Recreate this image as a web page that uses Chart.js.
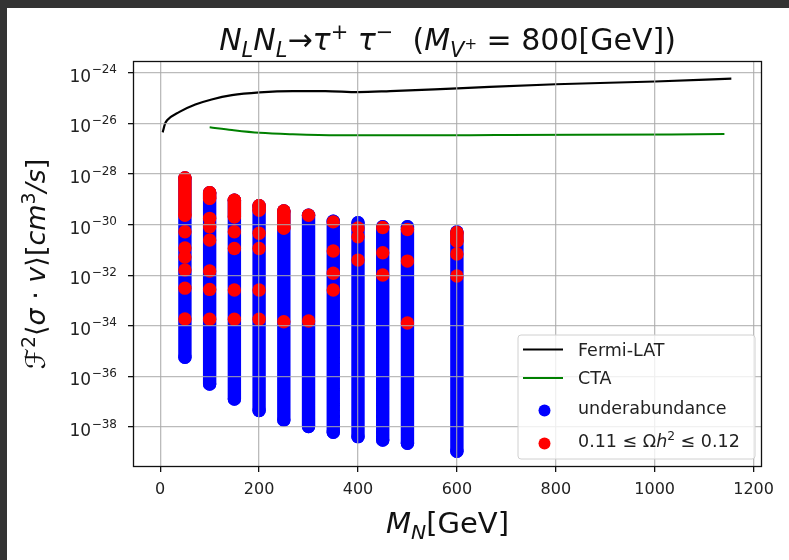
<!DOCTYPE html>
<html>
<head>
<meta charset="utf-8">
<script src="https://cdn.jsdelivr.net/npm/chart.js@4.4.0/dist/chart.umd.min.js"></script>
<style>
  html, body { margin: 0; padding: 0; }
  body { width: 789px; height: 560px; background: #333; overflow: hidden; position: relative; }
  #frame { position: absolute; left: 7px; top: 8px; width: 782px; height: 552px; background: #fff; }
</style>
</head>
<body>
<div id="frame"><canvas id="chart"></canvas></div>
<script>
// Fermi-LAT and CTA limits: mass [GeV], log10 of cross section
const fermiMass = [5, 10, 14, 39, 71, 104, 145, 201, 268, 334, 400, 465, 601, 800, 1001, 1155];
const fermiLog = [-26.35, -26.0, -25.87, -25.54, -25.25, -25.05, -24.88, -24.77, -24.72, -24.72, -24.76, -24.72, -24.61, -24.45, -24.34, -24.23];
const ctaMass = [100, 145, 201, 268, 359, 515, 679, 843, 1141];
const ctaLog = [-26.15, -26.26, -26.37, -26.43, -26.47, -26.47, -26.46, -26.45, -26.42];

// scan columns (log10 of cross section), blue points fill each column from top to bottom
const scanMass = [50, 100, 150, 200, 250, 300, 350, 400, 450, 500, 600];
const blueTop = [-28.15, -28.74, -29.03, -29.25, -29.46, -29.63, -29.86, -29.92, -30.08, -30.08, -30.29];
const blueBottom = [-35.24, -36.30, -36.89, -37.35, -37.72, -37.98, -38.21, -38.38, -38.51, -38.64, -38.96];
// red points for each column; a pair is a run of overlapping points
const redPoints = [
  [[-28.15, -29.62], -30.28, -30.92, -31.28, -31.79, -32.51, -33.73],
  [[-28.74, -28.96], -29.75, -30.08, -30.61, -31.83, -32.56, -33.74],
  [[-29.03, -29.69], -30.28, -30.94, -32.58, -33.74],
  [[-29.25, -29.42], -30.34, -30.94, -32.58, -33.74],
  [[-29.46, -30.13], -33.84],
  [-29.63, -33.81],
  [-29.89, -31.04, -31.92, -32.58],
  [-30.13, -30.48, -31.40],
  [-30.11, -31.11, -31.99],
  [-30.19, -31.44, -33.89],
  [[-30.32, -30.65], -31.16, -32.03]
];

const xTicks = [0, 200, 400, 600, 800, 1000, 1200];
const yTicks = [-24, -26, -28, -30, -32, -34, -36, -38];

const FONT = '"DejaVu Sans"';
const DOT = 6.7;

function curve(mass, logs) {
  return mass.map((m, i) => ({ x: m, y: Math.pow(10, logs[i]) }));
}

// each run becomes a short vertical stroke, split from the next by a null point
function columns(runsPerColumn) {
  const pts = [];
  scanMass.forEach((m, i) => {
    runsPerColumn[i].forEach((r) => {
      const run = Array.isArray(r) ? r : [r];
      run.forEach((v) => pts.push({ x: m, y: Math.pow(10, v) }));
      pts.push({ x: m, y: null });
    });
  });
  return pts;
}

const blueRuns = scanMass.map((m, i) => [[blueTop[i], blueBottom[i]]]);

// text with italics, subscripts and superscripts
function partFont(style, size) {
  let sz = size;
  if (style.includes("sub") || style.includes("sup")) sz = size * 0.7;
  if (style.includes("ss")) sz = size * 0.5;
  return (style.includes("i") ? "italic " : "") + sz.toFixed(1) + "px " + FONT;
}
function partShift(style, size) {
  if (style.includes("ss")) return -size * 0.02;
  if (style.includes("sub")) return size * 0.22;
  if (style.includes("sup")) return -size * 0.38;
  return 0;
}
function richWidth(ctx, parts, size) {
  let w = 0;
  parts.forEach(([t, s]) => { ctx.font = partFont(s, size); w += ctx.measureText(t).width; });
  return w;
}
function drawRich(ctx, parts, x, y, size, align) {
  let cx = x;
  if (align === "center") cx = x - richWidth(ctx, parts, size) / 2;
  if (align === "right") cx = x - richWidth(ctx, parts, size);
  ctx.textBaseline = "alphabetic";
  ctx.textAlign = "left";
  parts.forEach(([t, s]) => {
    ctx.font = partFont(s, size);
    ctx.fillText(t, cx, y + partShift(s, size));
    cx += ctx.measureText(t).width;
  });
}

const titleParts = [["N", "i"], ["L", "i sub"], ["N", "i"], ["L", "i sub"], ["→", ""], ["τ", "i"], ["+", "sup"], [" ", ""], ["τ", "i"], ["−", "sup"],
  ["  (", ""], ["M", "i"], ["V", "i sub"], ["+", "ss"], [" = 800[GeV])", ""]];
const xLabelParts = [["M", "i"], ["N", "i sub"], ["[GeV]", ""]];
const yLabelParts = [["ℱ", "i"], ["2", "sup"], ["⟨", ""], ["σ", "i"], [" · ", ""], ["v", "i"], ["⟩[", ""], ["cm", "i"], ["3", "sup"], ["/", "i"], ["s", "i"], ["]", ""]];

const legendEntries = [
  { kind: "line", color: "#000000", parts: [["Fermi-LAT", ""]] },
  { kind: "line", color: "#008000", parts: [["CTA", ""]] },
  { kind: "dot", color: "#0000ff", parts: [["underabundance", ""]] },
  { kind: "dot", color: "#ff0000", parts: [["0.11 ≤ Ω", ""], ["h", "i"], ["2", "sup"], [" ≤ 0.12", ""]] }
];

const decorations = {
  id: "decorations",
  afterDraw(chart) {
    const ctx = chart.ctx;
    const a = chart.chartArea;
    const yScale = chart.scales.y;
    ctx.save();
    // axes frame
    ctx.strokeStyle = "#111";
    ctx.lineWidth = 1.3;
    ctx.strokeRect(a.left + 0.5, a.top + 0.5, a.right - a.left - 1, a.bottom - a.top - 1);

    // y tick labels: 10 with a raised exponent
    ctx.fillStyle = "#222";
    yTicks.forEach((e) => {
      const py = yScale.getPixelForValue(Math.pow(10, e));
      ctx.font = "12px " + FONT;
      const ew = ctx.measureText("−" + Math.abs(e)).width;
      ctx.textAlign = "right";
      ctx.textBaseline = "alphabetic";
      ctx.fillText("−" + Math.abs(e), a.left - 16, py + 0.5);
      ctx.font = "17px " + FONT;
      ctx.fillText("10", a.left - 16 - ew - 0.5, py + 9);
    });

    ctx.fillStyle = "#111";
    drawRich(ctx, titleParts, (a.left + a.right) / 2, 42, 30, "center");
    drawRich(ctx, xLabelParts, (a.left + a.right) / 2, 525, 29, "center");
    ctx.save();
    ctx.translate(38, (a.top + a.bottom) / 2);
    ctx.rotate(-Math.PI / 2);
    drawRich(ctx, yLabelParts, 0, 0, 27, "center");
    ctx.restore();

    // legend box
    const bx = a.right - 244, by = a.bottom - 132, bw = 237, bh = 124;
    ctx.beginPath();
    ctx.roundRect(bx, by, bw, bh, 3);
    ctx.fillStyle = "rgba(255,255,255,0.8)";
    ctx.fill();
    ctx.lineWidth = 1;
    ctx.strokeStyle = "#d0d0d0";
    ctx.stroke();
    const rows = [by + 14.5, by + 43, by + 73, by + 106];
    legendEntries.forEach((e, i) => {
      const y = rows[i];
      if (e.kind === "line") {
        ctx.strokeStyle = e.color;
        ctx.lineWidth = 2.2;
        ctx.beginPath();
        ctx.moveTo(bx + 5, y);
        ctx.lineTo(bx + 45, y);
        ctx.stroke();
      } else {
        ctx.fillStyle = e.color;
        ctx.beginPath();
        ctx.arc(bx + 26.5, y + 2.5, 6, 0, Math.PI * 2);
        ctx.fill();
      }
      ctx.fillStyle = "#222";
      drawRich(ctx, e.parts, bx + 60, y + 6, 17.5, "left");
    });
    ctx.restore();
  }
};

const gridStyle = { color: "rgba(170,170,170,0.8)", lineWidth: 1.3, tickLength: 5, tickColor: "#111", z: 1 };

new Chart(document.getElementById("chart").getContext("2d"), {
  type: "line",
  data: {
    datasets: [
      {
        label: "Fermi-LAT",
        data: curve(fermiMass, fermiLog),
        borderColor: "#000000",
        borderWidth: 2.2,
        pointRadius: 0,
        cubicInterpolationMode: "monotone",
        order: 0,
      },
      {
        label: "CTA",
        data: curve(ctaMass, ctaLog),
        borderColor: "#008000",
        borderWidth: 2,
        pointRadius: 0,
        cubicInterpolationMode: "monotone",
        order: 0,
      },
      {
        label: "0.11 ≤ Ωh² ≤ 0.12",
        data: columns(redPoints),
        borderColor: "#ff0000",
        backgroundColor: "#ff0000",
        borderWidth: DOT * 2,
        borderJoinStyle: "round",
        pointRadius: DOT,
        pointBorderWidth: 0,
        pointBackgroundColor: "#ff0000",
        spanGaps: false,
        order: 1,
      },
      {
        label: "underabundance",
        data: columns(blueRuns),
        borderColor: "#0000ff",
        backgroundColor: "#0000ff",
        borderWidth: DOT * 2,
        borderJoinStyle: "round",
        pointRadius: DOT,
        pointBorderWidth: 0,
        pointBackgroundColor: "#0000ff",
        spanGaps: false,
        order: 2,
      },
    ],
  },
  options: {
    responsive: true,
    maintainAspectRatio: false,
    animation: false,
    events: [],
    layout: { padding: { top: 53, right: 27, left: 0, bottom: 0 } },
    plugins: {
      legend: { display: false },
      tooltip: { enabled: false },
      title: { display: false },
    },
    scales: {
      x: {
        type: "linear",
        min: -55,
        max: 1217,
        afterBuildTicks: (axis) => { axis.ticks = xTicks.map((v) => ({ value: v })); },
        afterFit: (axis) => { axis.height = 93; },
        grid: gridStyle,
        border: { display: false },
        ticks: {
          font: { family: FONT, size: 16 },
          color: "#222",
          padding: 8,
          maxRotation: 0,
          callback: (v) => String(v),
        },
      },
      y: {
        type: "logarithmic",
        min: Math.pow(10, -39.58),
        max: Math.pow(10, -23.53),
        afterBuildTicks: (axis) => { axis.ticks = yTicks.map((e) => ({ value: Math.pow(10, e) })); },
        afterFit: (axis) => { axis.width = 126; },
        grid: gridStyle,
        border: { display: false },
        ticks: { display: false },
      },
    },
  },
  plugins: [decorations],
});
</script>
</body>
</html>
